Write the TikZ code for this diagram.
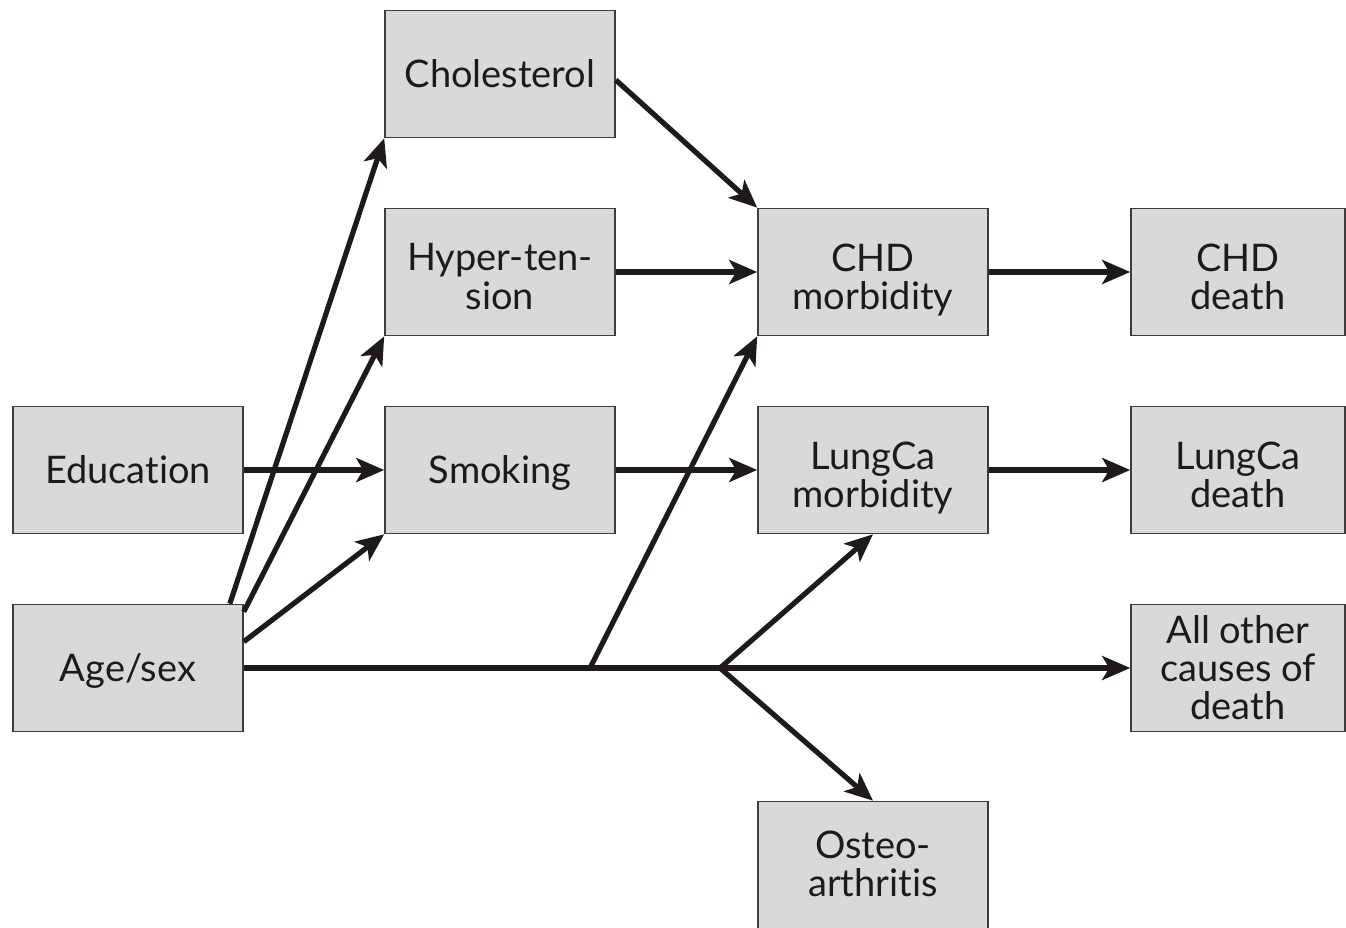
\documentclass[tikz,border=0pt]{standalone}
\usepackage{fontspec}
\setmainfont[Ligatures=NoCommon]{Lato}
\usetikzlibrary{arrows.meta}
\definecolor{boxfill}{HTML}{D9D9D9}
\definecolor{ink}{HTML}{1E1A1B}
% stacked lines inside a box, placed by the optional offset
\newcommand{\stacked}[2][-16pt]{\raisebox{#1}[0pt][0pt]{\renewcommand{\arraystretch}{0.95}\begin{tabular}{@{}c@{}}#2\end{tabular}}}
\begin{document}
\begin{tikzpicture}[x=1pt,y=-1pt,
  box/.style={draw=ink!85, line width=1.6pt, fill=boxfill, inner sep=0pt,
    minimum width=230pt, minimum height=127pt, align=center, text=ink,
    font=\fontsize{38}{37}\selectfont},
  single/.style={text height=27pt, text depth=0pt},
  endbox/.style={box, minimum width=214pt},
  link/.style={draw=ink, line width=5.2pt, -{Stealth[length=28pt,width=24pt,inset=7pt]}}]
\useasboundingbox (0,0) rectangle (1346,928);

% boxes
\node[box,single] (chol) at (500,74)  {Cholesterol};
\node[box] (hyp)  at (500,272) {\stacked{Hyper-ten-\\sion}};
\node[box,single] (smok) at (500,470) {Smoking};
\node[box,single] (edu)  at (128,470) {Education};
\node[box,single] (age)  at (128,668) {Age/sex};
\node[box] (chdm) at (873,272) {\stacked{CHD\\morbidity}};
\node[box] (lcm)  at (873,470) {\stacked{LungCa\\morbidity}};
\node[box] (ost)  at (873,865) {\stacked[-10pt]{Osteo-\\arthritis}};
\node[endbox] (chdd) at (1238,272) {\stacked{CHD\\death}};
\node[endbox] (lcd)  at (1238,470) {\stacked{LungCa\\death}};
\node[endbox] (oth)  at (1238,668) {\stacked[-11pt]{All other\\causes of\\death}};

% branch points on the age/sex line
\coordinate (j1) at (590,668);
\coordinate (j2) at (720,668);

% connectors
\draw[link] (edu.east) -- (smok.west);
\draw[link] (smok.east) -- (lcm.west);
\draw[link] (hyp.east) -- (chdm.west);
\draw[link] ([yshift=-6pt]chol.east) -- (chdm.north west);
\draw[link] (chdm.east) -- (chdd.west);
\draw[link] (lcm.east) -- (lcd.west);
\draw[link] (age.east) -- (oth.west);
\draw[link] ([xshift=-14pt]age.north east) -- (chol.south west);
\draw[link] ([yshift=-8pt]age.north east) -- (hyp.south west);
\draw[link] ([yshift=-38pt]age.north east) -- (smok.south west);
\draw[link] (j1) -- (chdm.south west);
\draw[link] (j2) -- (lcm.south);
\draw[link] (j2) -- (ost.north);
\end{tikzpicture}
\end{document}
